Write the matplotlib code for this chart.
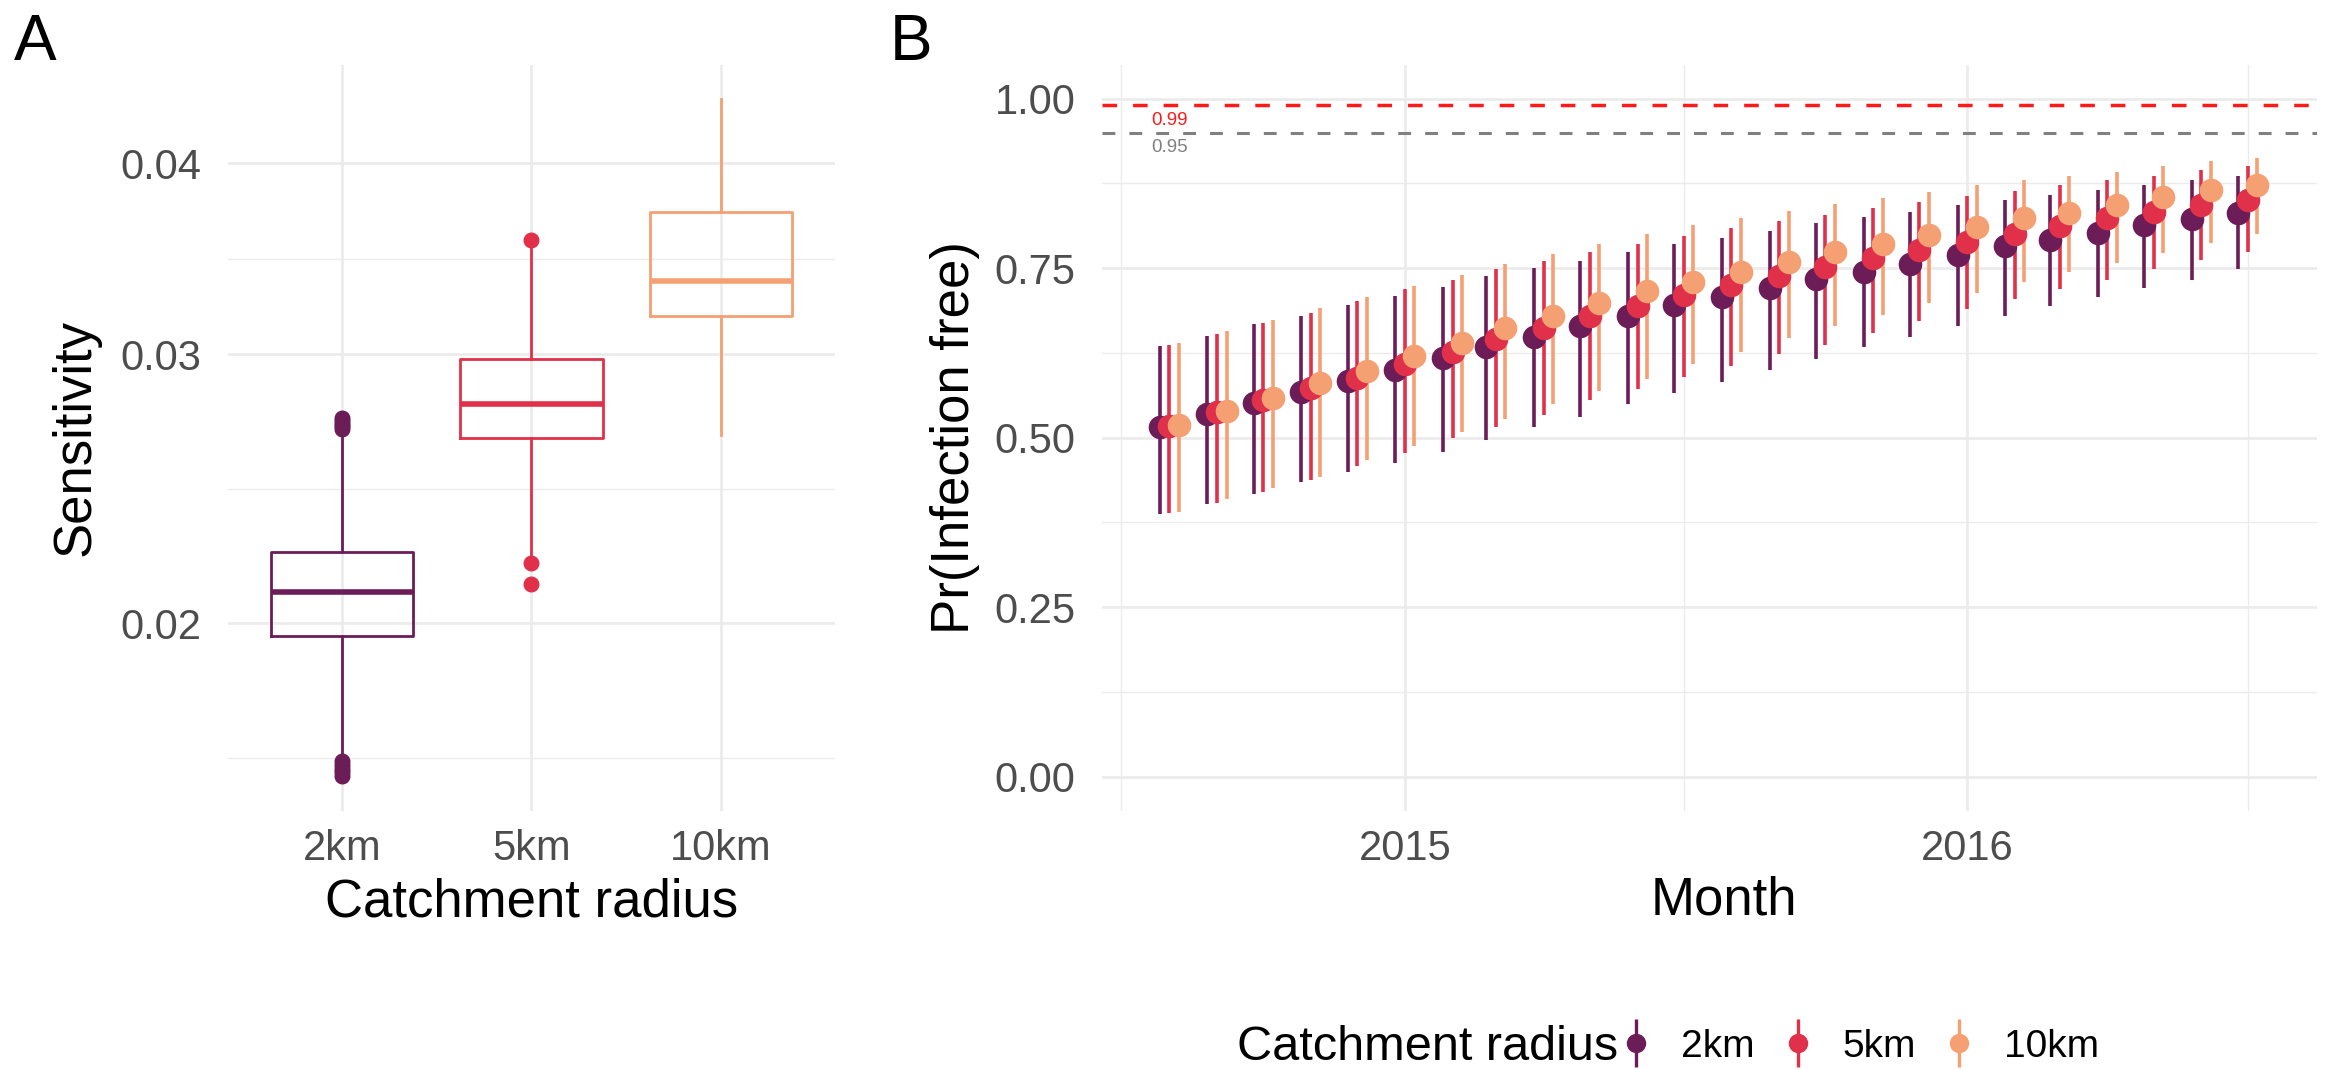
import numpy as np
import pandas as pd
import matplotlib
matplotlib.use("Agg")
import matplotlib.pyplot as plt
import matplotlib.dates as mdates
from matplotlib.lines import Line2D

plt.rcParams['font.family'] = ['Liberation Sans', 'DejaVu Sans']

radius = ['2km', '5km', '10km']

# Panel A: summary of sensitivity per catchment radius
sens_q1 = [0.01962, 0.02642, 0.03177]
sens_med = [0.02096, 0.02782, 0.03350]
sens_q3 = [0.02225, 0.02976, 0.03715]
sens_lo = [0.01645, 0.02215, 0.02655]
sens_hi = [0.02668, 0.03530, 0.04405]
sens_out = [[0.01588, 0.01597, 0.01606, 0.01615, 0.01624,
             0.02680, 0.02690, 0.02701, 0.02712, 0.02724],
            [0.02123, 0.02188, 0.03563],
            []]

# Panel B: monthly probability of freedom from infection (median and 95% interval)
months = pd.date_range('2014-08-01', '2016-07-01', freq='MS')

pr_mid = {
    '2km': [0.515, 0.535, 0.551, 0.567, 0.583, 0.600, 0.618, 0.633, 0.649, 0.664, 0.679, 0.695,
            0.708, 0.721, 0.734, 0.745, 0.756, 0.770, 0.782, 0.792, 0.802, 0.814, 0.822, 0.831],
    '5km': [0.517, 0.538, 0.555, 0.573, 0.588, 0.609, 0.627, 0.646, 0.662, 0.679, 0.694, 0.711,
            0.725, 0.738, 0.752, 0.765, 0.777, 0.789, 0.801, 0.812, 0.824, 0.833, 0.843, 0.851],
    '10km': [0.519, 0.540, 0.559, 0.580, 0.598, 0.621, 0.640, 0.662, 0.679, 0.699, 0.716, 0.730,
             0.745, 0.759, 0.774, 0.786, 0.799, 0.811, 0.824, 0.832, 0.843, 0.855, 0.865, 0.873],
}
pr_lo = {
    '2km': [0.387, 0.402, 0.417, 0.434, 0.449, 0.463, 0.479, 0.497, 0.516, 0.530, 0.549, 0.566,
            0.582, 0.600, 0.616, 0.633, 0.649, 0.664, 0.679, 0.694, 0.707, 0.721, 0.733, 0.748],
    '5km': [0.389, 0.404, 0.420, 0.437, 0.458, 0.478, 0.499, 0.516, 0.533, 0.555, 0.571, 0.589,
            0.606, 0.624, 0.637, 0.654, 0.672, 0.690, 0.704, 0.719, 0.733, 0.748, 0.762, 0.774],
    '10km': [0.391, 0.409, 0.425, 0.442, 0.467, 0.488, 0.508, 0.528, 0.549, 0.569, 0.586, 0.608,
             0.627, 0.647, 0.664, 0.681, 0.699, 0.714, 0.729, 0.745, 0.757, 0.773, 0.787, 0.801],
}
pr_hi = {
    '2km': [0.635, 0.650, 0.667, 0.679, 0.695, 0.709, 0.722, 0.738, 0.750, 0.761, 0.774, 0.785,
            0.795, 0.805, 0.816, 0.825, 0.833, 0.843, 0.850, 0.858, 0.865, 0.873, 0.880, 0.886],
    '5km': [0.637, 0.653, 0.669, 0.684, 0.701, 0.719, 0.733, 0.749, 0.761, 0.774, 0.786, 0.798,
            0.809, 0.820, 0.828, 0.838, 0.848, 0.857, 0.864, 0.873, 0.880, 0.886, 0.895, 0.900],
    '10km': [0.639, 0.657, 0.674, 0.691, 0.708, 0.723, 0.740, 0.756, 0.771, 0.785, 0.800, 0.813,
             0.824, 0.834, 0.844, 0.853, 0.863, 0.873, 0.880, 0.886, 0.892, 0.900, 0.908, 0.913],
}

thresholds = [0.99, 0.95]
threshold_labels = ['0.99', '0.95']

colours = {'2km': '#6C1D58', '5km': '#E0304A', '10km': '#F5A073'}
grid_col = '#EBEBEB'
tick_col = '#4D4D4D'

fig = plt.figure(figsize=(23.36, 10.70), dpi=100)
axA = fig.add_axes([0.0976, 0.2425, 0.2598, 0.697])
axB = fig.add_axes([0.4717, 0.2425, 0.5201, 0.697])

for ax in (axA, axB):
    for s in ax.spines.values():
        s.set_visible(False)
    ax.tick_params(which='both', length=0, labelsize=30, labelcolor=tick_col)
    ax.tick_params(axis='y', pad=19)
    ax.tick_params(axis='x', pad=13)
    ax.set_axisbelow(True)

# ---- panel A: boxplots on a log scale
stats = []
for i, r in enumerate(radius):
    stats.append(dict(med=sens_med[i], q1=sens_q1[i], q3=sens_q3[i],
                      whislo=sens_lo[i], whishi=sens_hi[i], fliers=sens_out[i]))
pos = np.arange(1, len(radius) + 1)
for i, r in enumerate(radius):
    c = colours[r]
    axA.bxp([stats[i]], positions=[pos[i]], widths=0.75, showcaps=False,
            boxprops=dict(color=c, linewidth=2.0),
            whiskerprops=dict(color=c, linewidth=2.0),
            medianprops=dict(color=c, linewidth=4.0),
            flierprops=dict(marker='o', markersize=10.5, markerfacecolor=c,
                            markeredgecolor=c, linestyle='none'))

axA.set_yscale('log')
axA.set_ylim(0.01508, 0.04639)
axA.set_xlim(0.4, 3.6)
major_a = [0.02, 0.03, 0.04]
axA.yaxis.set_major_locator(matplotlib.ticker.FixedLocator(major_a))
axA.yaxis.set_major_formatter(matplotlib.ticker.FixedFormatter(['0.02', '0.03', '0.04']))
minor_a = [0.02 * np.sqrt(0.02 / 0.03), np.sqrt(0.02 * 0.03), np.sqrt(0.03 * 0.04)]
axA.yaxis.set_minor_locator(matplotlib.ticker.FixedLocator(minor_a))
axA.yaxis.set_minor_formatter(matplotlib.ticker.NullFormatter())
axA.set_xticks(pos)
axA.set_xticklabels(radius)
axA.grid(which='major', color=grid_col, linewidth=1.9)
axA.grid(which='minor', axis='y', color=grid_col, linewidth=0.95)

axA.set_xlabel('Catchment radius', fontsize=38)
axA.set_ylabel('Sensitivity', fontsize=38)
axA.xaxis.set_label_coords(0.5, -0.09)
axA.yaxis.set_label_coords(-0.21, 0.5)

# ---- panel B: point ranges by month, dodged per radius
xm = mdates.date2num(months.to_pydatetime())
offsets = {'2km': -6.2, '5km': 0.0, '10km': 6.2}

for r in radius:
    x = xm + offsets[r]
    axB.vlines(x, pr_lo[r], pr_hi[r], color=colours[r], linewidth=2.6, zorder=2)
for r in radius:
    x = xm + offsets[r]
    axB.plot(x, pr_mid[r], 'o', color=colours[r], markersize=17, markeredgewidth=0, zorder=3)

axB.axhline(thresholds[0], color='#FF1A1A', linestyle=(0, (4.2, 4.6)), linewidth=2.5, zorder=1)
axB.axhline(thresholds[1], color='#808080', linestyle=(0, (4.2, 4.6)), linewidth=2.2, zorder=1)
axB.annotate(threshold_labels[0], (xm[0], thresholds[0]), xytext=(0, -11),
             textcoords='offset points', ha='center', va='center', fontsize=13.5, color='#FF1A1A')
axB.annotate(threshold_labels[1], (xm[0], thresholds[1]), xytext=(0, -10.5),
             textcoords='offset points', ha='center', va='center', fontsize=13.5, color='#808080')

base = mdates.date2num(pd.Timestamp('2015-01-01').to_pydatetime())
axB.set_xlim(base - 196.7, base + 592.0)
axB.set_ylim(-0.05, 1.05)
axB.set_yticks([0, 0.25, 0.5, 0.75, 1.0])
axB.set_yticklabels(['0.00', '0.25', '0.50', '0.75', '1.00'])
axB.yaxis.set_minor_locator(matplotlib.ticker.FixedLocator([0.125, 0.375, 0.625, 0.875]))
maj_b = mdates.date2num([pd.Timestamp('2015-01-01').to_pydatetime(), pd.Timestamp('2016-01-01').to_pydatetime()])
min_b = mdates.date2num([pd.Timestamp(d).to_pydatetime() for d in ['2014-07-01', '2015-07-01', '2016-07-01']])
axB.set_xticks(maj_b)
axB.set_xticklabels(['2015', '2016'])
axB.xaxis.set_minor_locator(matplotlib.ticker.FixedLocator(min_b))
axB.xaxis.set_minor_formatter(matplotlib.ticker.NullFormatter())
axB.grid(which='major', color=grid_col, linewidth=1.9)
axB.grid(which='minor', color=grid_col, linewidth=0.95)

axB.set_xlabel('Month', fontsize=38)
axB.set_ylabel('Pr(Infection free)', fontsize=38)
axB.xaxis.set_label_coords(0.512, -0.087)
axB.yaxis.set_label_coords(-0.1, 0.5)

# panel tags
fig.text(14 / 2336, 1 - 60 / 1070, 'A', fontsize=46, va='baseline')
fig.text(890 / 2336, 1 - 60 / 1070, 'B', fontsize=46, va='baseline')

# legend along the bottom, title to the left of the keys
handles = [(Line2D([], [], color=colours[r], marker='|', markersize=34, markeredgewidth=2.4, linestyle='none'),
            Line2D([], [], color=colours[r], marker='o', markersize=14, markeredgewidth=0, linestyle='none'))
           for r in radius]
fig.text(1237 / 2336, 1 - 1047 / 1070, 'Catchment radius', fontsize=35, va='center', ha='left')
fig.legend(handles, radius, loc='center left', bbox_to_anchor=(1613 / 2336, 1 - 1047 / 1070),
           ncol=3, frameon=False, fontsize=28, handlelength=1.2, handletextpad=0.56,
           columnspacing=0.5, borderpad=0, borderaxespad=0)

fig.savefig('out.png', dpi=100, facecolor='white')
